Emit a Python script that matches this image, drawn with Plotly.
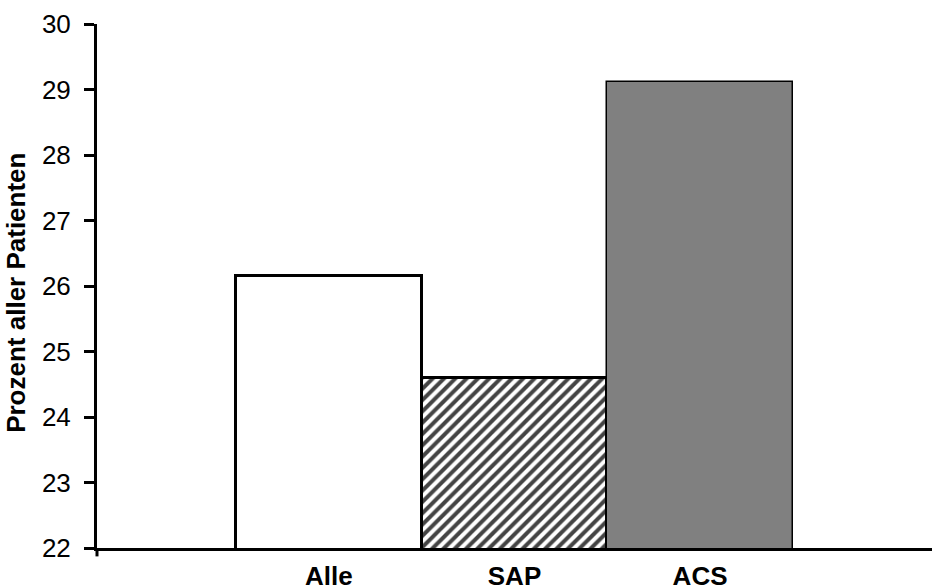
import plotly.graph_objects as go

categories = ["Alle", "SAP", "ACS"]
values = [26.15, 24.6, 29.12]
y_ticks = [22, 23, 24, 25, 26, 27, 28, 29, 30]
y_title = "Prozent aller Patienten"

positions = list(range(len(categories)))

fig = go.Figure()
fig.add_trace(go.Bar(
    x=positions,
    y=values,
    width=1,
    marker=dict(
        color=["#ffffff", "#ffffff", "#808080"],
        line=dict(color="#000000", width=[3, 3, 1.5]),
        pattern=dict(shape=["", "/", ""], fgcolor="#000000", fgopacity=1,
                     size=8, solidity=0.5, fillmode="overlay"),
    ),
    showlegend=False,
))

fig.update_layout(
    width=932, height=586,
    margin=dict(l=97, r=0, t=24, b=38),
    paper_bgcolor="white", plot_bgcolor="white",
    font=dict(family="Liberation Sans, Arial, sans-serif", color="#000000", size=26),
    bargap=0,
    xaxis=dict(
        range=[-1.25, 3.25], automargin=False,
        tickmode="array", tickvals=positions,
        ticktext=["<b>%s</b>" % c for c in categories],
        ticks="", showline=True, linecolor="#000000", linewidth=3,
        showgrid=False, zeroline=False,
        tickfont=dict(size=26), ticklabelstandoff=3,
    ),
    yaxis=dict(
        range=[22, 30], automargin=False,
        tickmode="array", tickvals=y_ticks,
        ticks="outside", ticklen=10, tickwidth=3, tickcolor="#000000",
        showline=True, linecolor="#000000", linewidth=3,
        showgrid=False, zeroline=False,
        tickfont=dict(size=26), ticklabelstandoff=8,
    ),
)
fig.add_annotation(text="<b>%s</b>" % y_title, textangle=-90,
                   xref="paper", yref="paper", x=-0.0964, y=0.486,
                   xanchor="center", yanchor="middle", showarrow=False,
                   font=dict(size=26))
fig.add_shape(type="line", xref="paper", yref="paper", x0=0, x1=0, y0=0, y1=-0.016,
              line=dict(color="#000000", width=3))

fig.write_html("out.html", config={"displayModeBar": False},
               post_script="document.body.style.margin='0';document.body.style.overflow='hidden';")
